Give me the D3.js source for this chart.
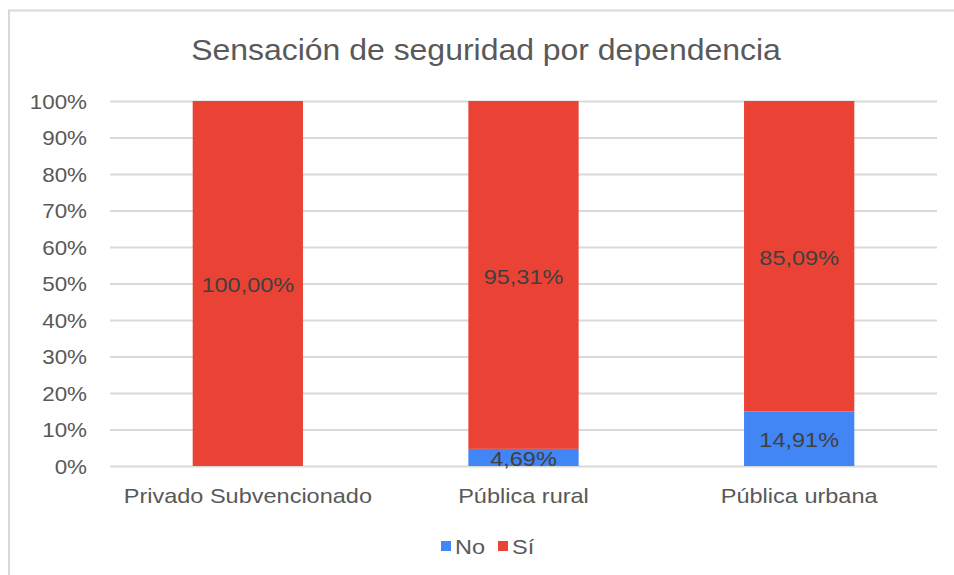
<!DOCTYPE html>
<html><head><meta charset="utf-8">
<script src="https://cdn.jsdelivr.net/npm/d3@7"></script>
<style>html,body{margin:0;padding:0;background:#fff;}svg{display:block;font-family:"Liberation Sans",Arial,sans-serif;}</style>
</head><body>
<script>
const categories = ["Privado Subvencionado", "Pública rural", "Pública urbana"];
const seriesNames = ["No", "Sí"];
const noValues = [0, 4.69, 14.91];
const siValues = [100, 95.31, 85.09];
const yTicks = [0, 10, 20, 30, 40, 50, 60, 70, 80, 90, 100];
const colors = {"No": "#4285F4", "Sí": "#EA4335"};

const W = 954, H = 575, SX = 1.12;
const svg = d3.select("body").append("svg").attr("width", W).attr("height", H);

// frame
svg.append("path").attr("d", "M9,575 V10.5 H954").attr("fill", "none").attr("stroke", "#d9d9d9").attr("stroke-width", 2);

const x = d3.scaleBand().domain(categories).range([110, 937]).paddingInner(0.6).paddingOuter(0.3);
const y = d3.scaleLinear().domain([0, 100]).range([466, 101]);

// title
svg.append("text").attr("transform", `translate(486,60) scale(1.065,1)`)
  .attr("text-anchor", "middle").attr("font-size", 30).attr("fill", "#595959")
  .text("Sensación de seguridad por dependencia");

// gridlines
const yAxis = d3.axisLeft(y).tickValues(yTicks).tickSize(0).tickFormat(d => d + "%");
const gy = svg.append("g").attr("transform", "translate(110,0)").call(yAxis);
gy.select(".domain").remove();
gy.selectAll(".tick text").remove();
gy.selectAll(".tick").append("line").attr("x1", 0).attr("x2", 827).attr("stroke", "#d9d9d9").attr("stroke-width", 2);
gy.selectAll(".tick").append("text")
  .attr("transform", `translate(-23,0) scale(${SX},1)`)
  .attr("text-anchor", "end").attr("dy", "0.36em").attr("font-size", 20).attr("fill", "#595959")
  .text(d => d + "%");

// stacked data
const rows = categories.map((c, i) => ({cat: c, "No": noValues[i], "Sí": siValues[i]}));
const stack = d3.stack().keys(seriesNames)(rows);

const fmt = v => v.toFixed(2).replace(".", ",") + "%";

stack.forEach(layer => {
  const g = svg.append("g");
  g.selectAll("rect").data(layer).join("rect")
    .attr("x", d => x(d.data.cat)).attr("width", x.bandwidth())
    .attr("y", d => y(d[1])).attr("height", d => y(d[0]) - y(d[1]))
    .attr("fill", colors[layer.key]);
  g.selectAll("text").data(layer.filter(d => d[1] - d[0] > 0)).join("text")
    .attr("transform", d => `translate(${x(d.data.cat) + x.bandwidth() / 2},${(y(d[0]) + y(d[1])) / 2 + 1}) scale(${SX},1)`)
    .attr("text-anchor", "middle").attr("dy", "0.36em").attr("font-size", 21).attr("fill", "#404040")
    .text(d => fmt(d[1] - d[0]));
});

// category labels
svg.append("g").selectAll("text").data(categories).join("text")
  .attr("transform", d => `translate(${x(d) + x.bandwidth() / 2},503) scale(${SX},1)`)
  .attr("text-anchor", "middle").attr("font-size", 21).attr("fill", "#595959")
  .text(d => d);

// legend
const legendX = [441, 498];
const lg = svg.append("g");
seriesNames.forEach((s, i) => {
  lg.append("rect").attr("x", legendX[i]).attr("y", 541).attr("width", 10).attr("height", 10).attr("fill", colors[s]);
  lg.append("text").attr("transform", `translate(${legendX[i] + 14},546) scale(${SX},1)`)
    .attr("dy", "0.36em").attr("font-size", 21).attr("fill", "#595959").text(s);
});
</script>
</body></html>
